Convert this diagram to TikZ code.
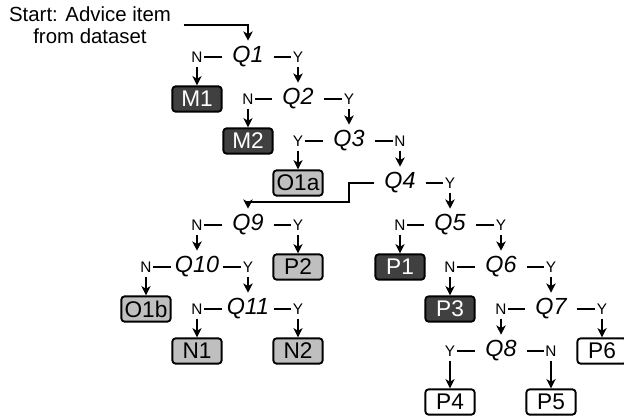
\documentclass[tikz,border=0pt]{standalone}
\usepackage{fontspec}
\setmainfont{Liberation Sans}
\usetikzlibrary{arrows.meta}
\definecolor{leafdark}{HTML}{404040}
\definecolor{leafgrey}{HTML}{BFBFBF}

\begin{document}
\begin{tikzpicture}[x=0.75pt,y=-0.75pt,
    quest/.style={font=\fontsize{17.5}{19}\selectfont\itshape,minimum width=38pt,minimum height=24pt,inner sep=0.5pt},
    lbl/.style={font=\fontsize{11.5}{13}\selectfont,inner sep=1pt},
    leaf/.style={draw,line width=1.4pt,rounded corners=2.5pt,minimum width=37pt,minimum height=19pt,inner sep=0.5pt,font=\fontsize{17}{18}\selectfont},
    dark/.style={leaf,fill=leafdark,text=white},
    grey/.style={leaf,fill=leafgrey},
    plain/.style={leaf,fill=white},
    tie/.style={line width=1pt},
    arr/.style={tie,-{Stealth[length=7pt,width=7pt,inset=2pt]},shorten <=2pt}]
  \useasboundingbox (0,0) rectangle (624,417);

  \node[align=center,font=\fontsize{15.3}{16.5}\selectfont] (start) at (90,25) {Start: Advice item\\from dataset};

  % questions with their answer letters
  \node[quest] (q1) at (248,57) {Q1};
  \node[lbl] (q1n) at (197,57) {N};
  \node[lbl] (q1y) at (298,57) {Y};
  \node[quest] (q2) at (298,99) {Q2};
  \node[lbl] (q2n) at (248,99) {N};
  \node[lbl] (q2y) at (349,99) {Y};
  \node[quest] (q3) at (349,141) {Q3};
  \node[lbl] (q3y) at (298,141) {Y};
  \node[lbl] (q3n) at (400,141) {N};
  \node[quest] (q4) at (400,183) {Q4};
  \node[lbl] (q4y) at (450,183) {Y};
  \node[quest] (q9) at (248,225) {Q9};
  \node[lbl] (q9n) at (197,225) {N};
  \node[lbl] (q9y) at (298,225) {Y};
  \node[quest] (q5) at (450,225) {Q5};
  \node[lbl] (q5n) at (400,225) {N};
  \node[lbl] (q5y) at (501,225) {Y};
  \node[quest] (q10) at (197,267) {Q10};
  \node[lbl] (q10n) at (146,267) {N};
  \node[lbl] (q10y) at (248,267) {Y};
  \node[quest] (q6) at (501,267) {Q6};
  \node[lbl] (q6n) at (450,267) {N};
  \node[lbl] (q6y) at (551,267) {Y};
  \node[quest] (q11) at (248,309) {Q11};
  \node[lbl] (q11n) at (197,309) {N};
  \node[lbl] (q11y) at (298,309) {Y};
  \node[quest] (q7) at (551,309) {Q7};
  \node[lbl] (q7n) at (501,309) {N};
  \node[lbl] (q7y) at (602,309) {Y};
  \node[quest] (q8) at (501,351) {Q8};
  \node[lbl] (q8y) at (450,351) {Y};
  \node[lbl] (q8n) at (551,351) {N};

  % outcomes
  \node[dark] (m1) at (197,99) {M1};
  \node[dark] (m2) at (248,141) {M2};
  \node[grey] (o1a) at (298,183) {O1a};
  \node[grey] (p2) at (298,267) {P2};
  \node[dark] (p1) at (400,267) {P1};
  \node[grey] (o1b) at (146,309) {O1b};
  \node[dark] (p3) at (450,309) {P3};
  \node[grey] (n1) at (197,351) {N1};
  \node[grey] (n2) at (298,351) {N2};
  \node[plain] (p6) at (602,351) {P6};
  \node[plain] (p4) at (450,402) {P4};
  \node[plain] (p5) at (551,402) {P5};

  % ties between letters and questions
  \draw[tie] (q1n) -- (q1) (q1) -- (q1y);
  \draw[tie] (q2n) -- (q2) (q2) -- (q2y);
  \draw[tie] (q3y) -- (q3) (q3) -- (q3n);
  \draw[tie] (q4) -- (q4y);
  \draw[tie] (q9n) -- (q9) (q9) -- (q9y);
  \draw[tie] (q5n) -- (q5) (q5) -- (q5y);
  \draw[tie] (q10n) -- (q10) (q10) -- (q10y);
  \draw[tie] (q6n) -- (q6) (q6) -- (q6y);
  \draw[tie] (q11n) -- (q11) (q11) -- (q11y);
  \draw[tie] (q7n) -- (q7) (q7) -- (q7y);
  \draw[tie] (q8y) -- (q8) (q8) -- (q8n);

  % arrows
  \draw[arr,shorten <=6pt] (start.east) -| (q1.north);
  \coordinate (q4bend) at (349,202);
  \draw[arr,shorten <=0pt] (q4.west) -| (q4bend) -| (q9.north);
  \draw[arr] (q1n) -- (m1);
  \draw[arr] (q1y) -- (q2.north);
  \draw[arr] (q2n) -- (m2);
  \draw[arr] (q2y) -- (q3.north);
  \draw[arr] (q3y) -- (o1a);
  \draw[arr] (q3n) -- (q4.north);
  \draw[arr] (q4y) -- (q5.north);
  \draw[arr] (q9n) -- (q10.north);
  \draw[arr] (q9y) -- (p2);
  \draw[arr] (q5n) -- (p1);
  \draw[arr] (q5y) -- (q6.north);
  \draw[arr] (q10n) -- (o1b);
  \draw[arr] (q10y) -- (q11.north);
  \draw[arr] (q6n) -- (p3);
  \draw[arr] (q6y) -- (q7.north);
  \draw[arr] (q11n) -- (n1);
  \draw[arr] (q11y) -- (n2);
  \draw[arr] (q7n) -- (q8.north);
  \draw[arr] (q7y) -- (p6);
  \draw[arr] (q8y) -- (p4);
  \draw[arr] (q8n) -- (p5);
\end{tikzpicture}
\end{document}
